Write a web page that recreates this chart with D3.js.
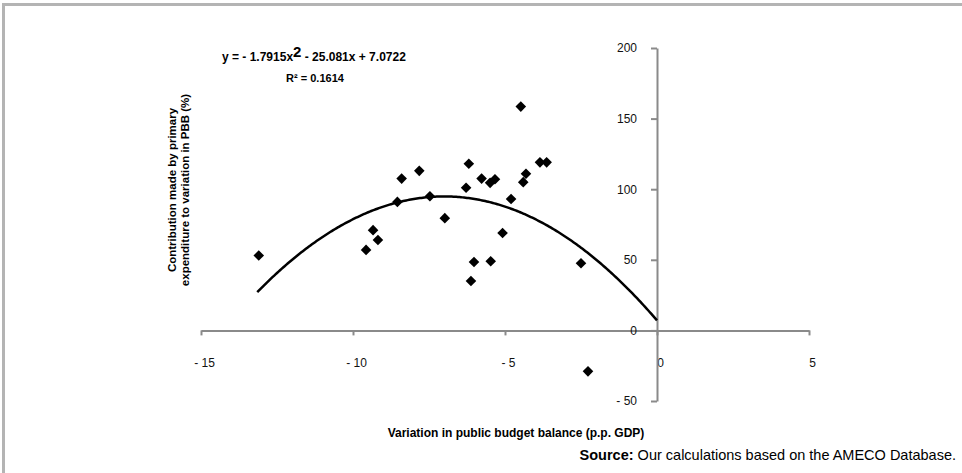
<!DOCTYPE html>
<html>
<head>
<meta charset="utf-8">
<script src="https://cdn.jsdelivr.net/npm/d3@7"></script>
<style>
  html, body { margin: 0; padding: 0; background: #fff; }
  svg { display: block; }
  text { font-family: "Liberation Sans", Arial, sans-serif; }
</style>
</head>
<body>
<svg id="chart" width="962" height="473"></svg>
<script>
// Public budget balance variation (x, p.p. GDP) vs. contribution of primary expenditure (y, %)
const balanceVariation = [
  -13.1, -9.57, -9.34, -9.18, -8.54, -8.40, -7.82, -7.47, -6.98, -6.28,
  -6.19, -6.02, -6.12, -5.77, -5.49, -5.33, -5.47, -5.08, -4.80, -4.48,
  -4.40, -4.31, -3.85, -3.63, -2.50, -2.27
];
const expenditureContribution = [
  53, 57, 71, 64, 91, 107.5, 113, 95, 79.5, 101,
  118, 48.5, 35, 107.5, 104.5, 107, 49, 69, 93, 158.5,
  105, 111, 119, 119, 47.5, -29
];
// Polynomial trend: y = a x^2 + b x + c
const trendCoefficients = [-1.7915, -25.081, 7.0722];
const trendRange = [-13.15, 0];
const rSquared = "0.1614";

const xTicks = [-15, -10, -5, 0, 5];
const yTicks = [-50, 0, 50, 100, 150, 200];

const svg = d3.select("#chart");

// outer frame (top and left edges)
svg.append("path")
  .attr("d", "M3.5,473 L3.5,4.5 L962,4.5")
  .attr("fill", "none")
  .attr("stroke", "#b4b4b4")
  .attr("stroke-width", 3);

const x = d3.scaleLinear().domain([-15, 5]).range([201, 809]);
const y = d3.scaleLinear().domain([-50, 200]).range([401, 48]);

const fmt = d => d < 0 ? "- " + Math.abs(d) : String(d);

// x axis through y = 0
const gx = svg.append("g")
  .attr("transform", `translate(0,${y(0)})`)
  .call(d3.axisBottom(x).tickValues(xTicks).tickSize(5).tickSizeOuter(0).tickPadding(23).tickFormat(fmt));

// y axis through x = 0
const gy = svg.append("g")
  .attr("transform", `translate(${x(0)},0)`)
  .call(d3.axisLeft(y).tickValues(yTicks).tickSize(6).tickSizeOuter(0).tickPadding(14).tickFormat(fmt));

[gx, gy].forEach(g => {
  g.select(".domain").attr("stroke", "#8a8a8a").attr("stroke-width", 2);
  g.selectAll(".tick line").attr("stroke", "#8a8a8a").attr("stroke-width", 2);
  g.selectAll(".tick text")
    .attr("fill", "#111")
    .style("font-size", "12px")
    .style("font-family", "'Liberation Sans', Arial, sans-serif");
});
gx.selectAll(".tick text").attr("dx", 3);

// trend curve
const [a, b, c] = trendCoefficients;
const curvePts = d3.range(trendRange[0], trendRange[1] + 0.001, 0.05).map(v => [v, a * v * v + b * v + c]);
svg.append("path")
  .datum(curvePts)
  .attr("fill", "none")
  .attr("stroke", "#000")
  .attr("stroke-width", 2.5)
  .attr("d", d3.line().x(d => x(d[0])).y(d => y(d[1])));

// scatter points (diamonds)
const diamond = d3.symbol().type(d3.symbolSquare).size(56);
svg.append("g")
  .selectAll("path")
  .data(balanceVariation.map((v, i) => [v, expenditureContribution[i]]))
  .join("path")
  .attr("d", diamond)
  .attr("transform", d => `translate(${x(d[0])},${y(d[1])}) rotate(45)`)
  .attr("fill", "#000");

// trend equation
const eq = svg.append("text")
  .attr("x", 222).attr("y", 61)
  .attr("font-weight", "bold")
  .attr("font-size", 12)
  .attr("fill", "#000");
eq.append("tspan").text(`y =  - ${Math.abs(a)}x`);
eq.append("tspan").attr("font-size", 15).attr("dy", -4).text("2");
eq.append("tspan").attr("dy", 4).text(`  -  ${Math.abs(b)}x + ${c}`);

svg.append("text")
  .attr("x", 315).attr("y", 82)
  .attr("text-anchor", "middle")
  .attr("font-weight", "bold")
  .attr("font-size", 11)
  .attr("fill", "#000")
  .text(`R² = ${rSquared}`);

// y axis title
const yTitle = svg.append("text")
  .attr("transform", "translate(176,190) rotate(-90)")
  .attr("text-anchor", "middle")
  .attr("font-weight", "bold")
  .attr("font-size", 11.5)
  .attr("fill", "#000");
yTitle.append("tspan").attr("x", 0).attr("dy", 0).text("Contribution made by primary");
yTitle.append("tspan").attr("x", 0).attr("dy", 13).text("expenditure to variation in PBB (%)");

// x axis title
svg.append("text")
  .attr("x", 516).attr("y", 437)
  .attr("text-anchor", "middle")
  .attr("font-weight", "bold")
  .attr("font-size", 12)
  .attr("fill", "#000")
  .text("Variation in public budget balance (p.p. GDP)");

// source note
const src = svg.append("text")
  .attr("x", 956).attr("y", 460)
  .attr("text-anchor", "end")
  .attr("font-size", 14.5)
  .attr("fill", "#000");
src.append("tspan").attr("font-weight", "bold").text("Source:");
src.append("tspan").text(" Our calculations based on the AMECO Database.");
</script>
</body>
</html>
